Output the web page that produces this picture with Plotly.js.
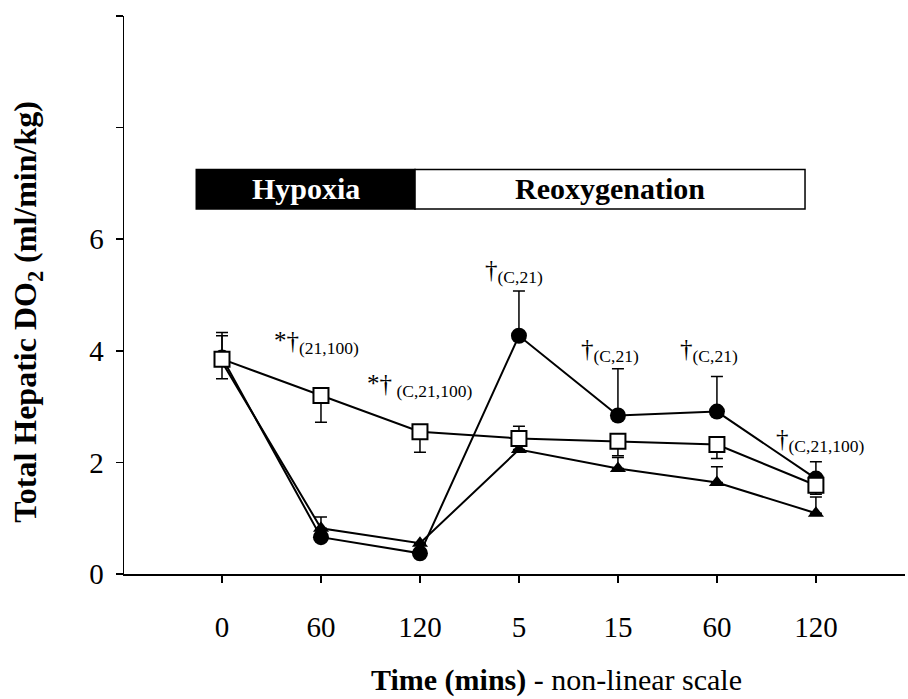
<!DOCTYPE html>
<html><head><meta charset="utf-8">
<script src="https://cdn.plot.ly/plotly-3.0.1.min.js"></script>
<style>html,body{margin:0;padding:0;background:#fff;}#chart{width:908px;height:699px;}</style>
</head><body><div id="chart"></div>
<script>
const categories = ['0','60','120','5','15','60','120'];
const circleVals = [3.88, 0.66, 0.37, 4.27, 2.84, 2.91, 1.71];
const circleErrUp = [0.45, 0, 0, 0.8, 0.84, 0.63, 0.3];
const squareVals = [3.85, 3.2, 2.55, 2.43, 2.38, 2.32, 1.59];
const squareErrUp = [0.42, 0, 0, 0.22, 0, 0, 0];
const squareErrDown = [0.35, 0.48, 0.37, 0, 0.26, 0.25, 0.16];
const triVals = [3.8, 0.82, 0.55, 2.23, 1.89, 1.64, 1.09];
const triErrUp = [0, 0.2, 0, 0, 0.2, 0.28, 0.29];
const yTickVals = [0, 2, 4, 6, 8, 10];
const yTickText = ['0', '2', '4', '6', '', ''];
const annTexts = ['*†<sub>(21,100)</sub>', '*†<sub> (C,21,100)</sub>', '†<sub>(C,21)</sub>', '†<sub>(C,21)</sub>', '†<sub>(C,21)</sub>', '†<sub>(C,21,100)</sub>'];
const annX = [0.95, 2.0, 2.95, 3.92, 4.92, 6.05];
const annY = [4.14, 3.38, 5.43, 4.0, 4.0, 2.39];
const phaseLabels = ['Hypoxia', 'Reoxygenation'];
const xTitle = '<b>Time (mins)</b> - non-linear scale';
const yTitle = '<b>Total Hepatic DO<sub>2</sub> (ml/min/kg)</b>';

const xIdx = categories.map((c, i) => i);
const serif = 'Liberation Serif, Times New Roman, serif';

const traces = [
  {x: xIdx, y: triVals, type: 'scatter', mode: 'lines+markers',
   line: {color: '#000', width: 2},
   marker: {symbol: 'triangle-up', size: 14, color: '#000'},
   error_y: {type: 'data', symmetric: false, array: triErrUp, arrayminus: triVals.map(() => 0), color: '#000', thickness: 1.5, width: 6}},
  {x: xIdx, y: circleVals, type: 'scatter', mode: 'lines+markers',
   line: {color: '#000', width: 2},
   marker: {symbol: 'circle', size: 16, color: '#000'},
   error_y: {type: 'data', symmetric: false, array: circleErrUp, arrayminus: circleVals.map(() => 0), color: '#000', thickness: 1.5, width: 6}},
  {x: xIdx, y: squareVals, type: 'scatter', mode: 'lines+markers',
   line: {color: '#000', width: 2},
   marker: {symbol: 'square', size: 15, color: '#fff', line: {color: '#000', width: 2}},
   error_y: {type: 'data', symmetric: false, array: squareErrUp, arrayminus: squareErrDown, color: '#000', thickness: 1.5, width: 6}}
];

const annotations = annTexts.map((t, i) => ({
  x: annX[i], y: annY[i], xref: 'x', yref: 'y', text: t, showarrow: false,
  font: {family: serif, size: 25, color: '#000'}
}));
annotations.push({x: (-0.26 + 1.95) / 2, y: 6.9, xref: 'x', yref: 'y', text: '<b>' + phaseLabels[0] + '</b>', showarrow: false,
  font: {family: serif, size: 30, color: '#fff'}});
annotations.push({x: (1.95 + 5.89) / 2, y: 6.9, xref: 'x', yref: 'y', text: '<b>' + phaseLabels[1] + '</b>', showarrow: false,
  font: {family: serif, size: 30, color: '#000'}});
annotations.push({x: 0.554, y: -0.19, xref: 'paper', yref: 'paper', text: xTitle, showarrow: false,
  xanchor: 'center', yanchor: 'middle', font: {family: serif, size: 30, color: '#000'}});
annotations.push({x: -0.123, y: 0.47, xref: 'paper', yref: 'paper', text: yTitle, showarrow: false, textangle: -90,
  xanchor: 'center', yanchor: 'middle', font: {family: serif, size: 32, color: '#000'}});

const layout = {
  width: 908, height: 699,
  margin: {l: 124, r: 3, t: 16, b: 125},
  paper_bgcolor: '#fff', plot_bgcolor: '#fff',
  showlegend: false,
  font: {family: serif, color: '#000'},
  xaxis: {
    range: [-0.99, 6.9], tickvals: xIdx, ticktext: categories,
    showgrid: false, zeroline: false, showline: true, linecolor: '#000', linewidth: 1.5,
    ticks: 'outside', ticklen: 7, tickcolor: '#000', tickwidth: 1.5,
    ticklabelstandoff: 20,
    tickfont: {family: serif, size: 29, color: '#000'}
  },
  yaxis: {
    range: [0, 10], tickvals: yTickVals, ticktext: yTickText,
    showgrid: false, zeroline: false, showline: true, linecolor: '#000', linewidth: 1.5,
    ticks: 'outside', ticklen: 7, tickcolor: '#000', tickwidth: 1.5,
    ticklabelstandoff: 6,
    tickfont: {family: serif, size: 29, color: '#000'}
  },
  shapes: [
    {type: 'rect', xref: 'x', yref: 'y', x0: -0.26, x1: 1.95, y0: 6.54, y1: 7.25, fillcolor: '#000', line: {color: '#000', width: 1.5}},
    {type: 'rect', xref: 'x', yref: 'y', x0: 1.95, x1: 5.89, y0: 6.54, y1: 7.25, fillcolor: '#fff', line: {color: '#000', width: 1.5}}
  ],
  annotations: annotations
};

Plotly.newPlot('chart', traces, layout, {displayModeBar: false, staticPlot: true});
</script>
</body></html>
